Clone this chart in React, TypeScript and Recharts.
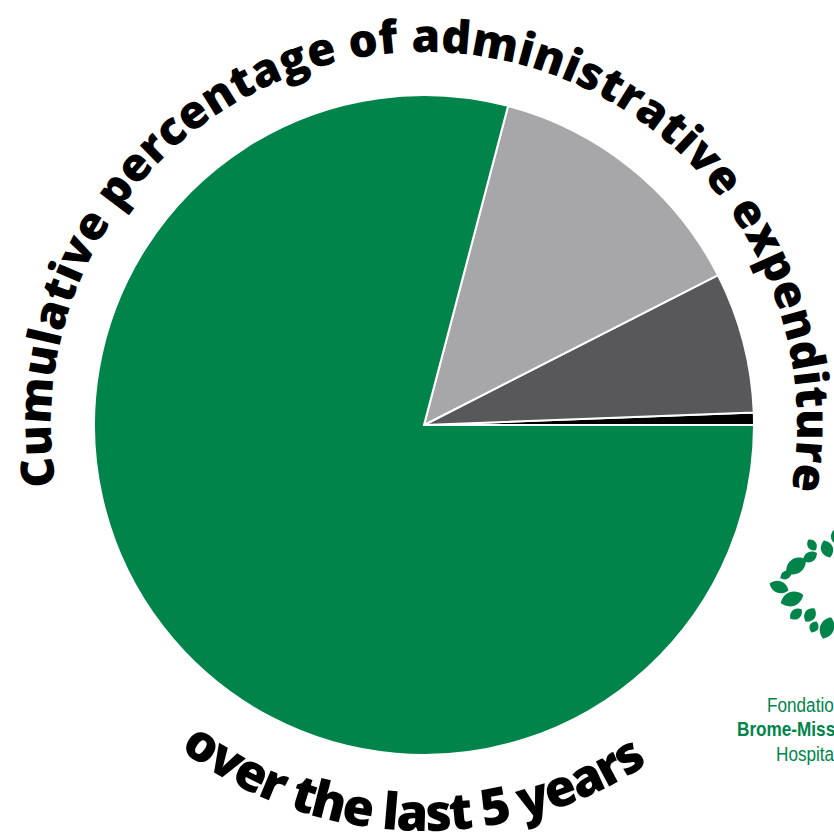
import React from 'react';
import { PieChart, Pie, Cell, Customized } from 'recharts';

const categories = ['Other', 'Category C', 'Category B', 'Category A'];
const values = [0.6, 6.9, 13.4, 79.1];
const colors = ['#000000', '#58585A', '#A7A7A9', '#00844A'];
const titleTop = 'Cumulative percentage of administrative expenditure';
const titleBottom = 'over the last 5 years';
const logoLines = ['Fondation', 'Brome-Missisquoi', 'Hospital'];

const data = categories.map((name, i) => ({ name, value: values[i] }));

const CX = 424;
const CY = 425;
const R = 330;

function pt(r: number, deg: number) {
  const a = (deg * Math.PI) / 180;
  return [CX + r * Math.cos(a), CY + r * Math.sin(a)];
}

function arcPath(r: number, a0: number, a1: number, sweep: number) {
  const [x0, y0] = pt(r, a0);
  const [x1, y1] = pt(r, a1);
  const large = Math.abs(a1 - a0) > 180 ? 1 : 0;
  return `M ${x0} ${y0} A ${r} ${r} 0 ${large} ${sweep} ${x1} ${y1}`;
}

// leaf decorations of the logo: cx, cy, length, width, rotation
const leaves: [number, number, number, number, number][] = [
  [812, 545, 13, 9, 55],
  [827, 549, 18, 12, 70],
  [810, 557, 16, 10, -30],
  [796, 566, 24, 15, -35],
  [786, 575, 13, 8, -30],
  [779, 587, 20, 12, 20],
  [792, 599, 24, 14, -20],
  [796, 614, 15, 10, -40],
  [810, 615, 16, 11, -55],
  [814, 627, 12, 9, -65],
  [827, 628, 23, 14, -70],
  [836, 537, 16, 10, 80],
];

function leafPath(L: number, W: number) {
  const h = L / 2;
  const c = W * 0.67;
  return `M ${-h} 0 C ${-h / 2} ${-c} ${h / 2} ${-c} ${h} 0 C ${h / 2} ${c} ${-h / 2} ${c} ${-h} 0 Z`;
}

function Decorations() {
  const r1 = 373;
  const r2 = 406;
  const t0 = 170.7;
  const t1 = 370;
  const b0 = 127;
  const b1 = 56.5;
  const topD = arcPath(r1, t0, t1, 1);
  const botD = arcPath(r2, b0, b1, 0);
  const topLen = (r1 * (t1 - t0) * Math.PI) / 180;
  const botLen = (r2 * (b0 - b1) * Math.PI) / 180;
  const logoFont = "'Liberation Sans', Arial, sans-serif";
  return (
    <g>
      <defs>
        <path id="topArc" d={topD} fill="none" />
        <path id="botArc" d={botD} fill="none" />
      </defs>
      <text fontFamily="'Open Sans', sans-serif" fontWeight={800} fontSize={46} fill="#000">
        <textPath href="#topArc" textLength={topLen} lengthAdjust="spacing">
          {titleTop}
        </textPath>
      </text>
      <text fontFamily="'Open Sans', sans-serif" fontWeight={800} fontSize={51} fill="#000">
        <textPath href="#botArc" textLength={botLen} lengthAdjust="spacing">
          {titleBottom}
        </textPath>
      </text>
      {leaves.map(([x, y, L, W, rot], i) => (
        <path
          key={i}
          d={leafPath(L, W)}
          transform={`translate(${x} ${y}) rotate(${rot})`}
          fill="#00844A"
        />
      ))}
      <text transform="translate(767 712) scale(0.88 1)" fontFamily={logoFont} fontSize={19.5} fill="#00844A">
        {logoLines[0]}
      </text>
      <text transform="translate(737 736) scale(0.88 1)" fontFamily={logoFont} fontSize={19.5} fontWeight={700} fill="#00844A">
        {logoLines[1]}
      </text>
      <text transform="translate(776 761) scale(0.88 1)" fontFamily={logoFont} fontSize={19.5} fill="#00844A">
        {logoLines[2]}
      </text>
    </g>
  );
}

export default function App() {
  return (
    <div style={{ position: 'absolute', left: 0, top: 0, width: 834, height: 838, background: '#fff' }}>
      <PieChart width={834} height={838} margin={{ top: 0, right: 0, bottom: 0, left: 0 }}>
        <Pie
          data={data}
          dataKey="value"
          nameKey="name"
          cx={CX}
          cy={CY}
          outerRadius={R}
          innerRadius={0}
          startAngle={0}
          endAngle={360}
          stroke="#ffffff"
          strokeWidth={2}
          isAnimationActive={false}
          label={false}
          labelLine={false}
        >
          {data.map((d, i) => (
            <Cell key={d.name} fill={colors[i]} />
          ))}
        </Pie>
        <Customized component={Decorations} />
      </PieChart>
    </div>
  );
}
